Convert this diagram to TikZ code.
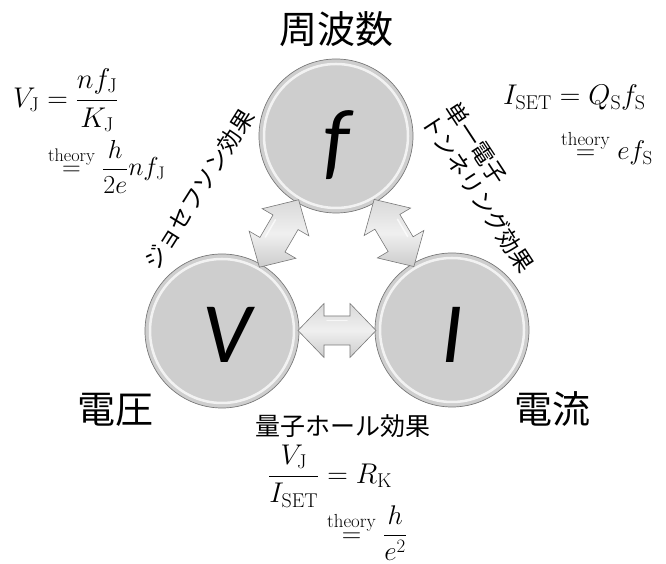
\RequirePackage{fix-cm}
\documentclass[tikz,border=0pt]{standalone}
\usepackage{fontspec}
\newfontfamily\jpfont{Noto Sans CJK JP}
\newfontfamily\carlito{Carlito}
\usetikzlibrary{calc}
\definecolor{ballgray}{RGB}{206,206,206}
\definecolor{rimgray}{RGB}{120,120,120}
\tikzset{
  ball/.style={circle, minimum size=154pt, inner sep=0pt, fill=ballgray, draw=rimgray, line width=0.7pt,
    path picture={\draw[white, opacity=.75, line width=2.5pt] (path picture bounding box.center) circle (72);}},
  letter/.style={inner sep=0pt, font=\carlito\itshape\fontsize{86}{86}\selectfont},
  arrowbody/.style={draw=rimgray, line width=0.6pt, top color=gray!30, bottom color=gray!40, middle color=gray!12},
  dblarrow/.pic={
    \path[arrowbody] (-39,0) -- (-13,27) -- (-13,14.5) -- (13,14.5) -- (13,27) -- (39,0)
      -- (13,-27) -- (13,-14.5) -- (-13,-14.5) -- (-13,-27) -- cycle;
    \draw[white, opacity=.7, line width=1.5pt, line cap=round] (-10,10) -- (10,10);
  },
  jplabel/.style={inner sep=0pt, font=\jpfont\fontsize{38}{40}\selectfont},
  effect/.style={inner sep=0pt, font=\jpfont\fontsize{23}{26}\selectfont},
  eq/.style={inner sep=0pt, font=\fontsize{28.5}{34}\selectfont},
  eqsmall/.style={inner sep=0pt, font=\fontsize{26}{31}\selectfont}
}
\begin{document}
\begin{tikzpicture}[x=1pt,y=1pt]
\useasboundingbox (0,0) rectangle (666,564);
% circles
\node[ball] (f) at (336,428) {};
\node[ball] (V) at (222,233) {};
\node[ball] (I) at (452,234) {};
\node[letter] (fl) at ($(f)+(1,-9)$) {f};
\node[letter] (Vl) at ($(V)+(5,-4)$) {V};
\node[letter] (Il) at ($(I)+(0,-5)$) {I};
% double arrows
\pic[rotate=59.8] at ($(V)!0.5!(f)$) {dblarrow};
\pic[rotate=-59.4] at ($(f)!0.5!(I)$) {dblarrow};
\pic at ($(V)!0.5!(I)$) {dblarrow};
% quantity labels
\node[jplabel] (freq) at (336.5,535) {周波数};
\node[jplabel] (volt) at (115.5,154.5) {電圧};
\node[jplabel] (curr) at (552.5,154.5) {電流};
% effect labels
\node[effect, font=\jpfont\fontsize{25}{28}\selectfont] (qhe) at (343,138) {量子ホール効果};
\node[effect, rotate=57.7] (jos) at (199,374.5) {ジョセフソン効果};
\node[effect, rotate=-56.8, anchor=west] (set1) at (451,459) {単一電子};
\node[effect, rotate=-56.8, anchor=west] (set2) at (427.5,447.5) {トンネリング効果};
% formulas
\node[eq, anchor=west] (vj) at (13,464) {$\displaystyle V_{\mathrm J}=\frac{nf_{\mathrm J}}{K_{\mathrm J}}$};
\node[eqsmall, anchor=west] (vjth) at (48,397) {$\displaystyle \stackrel{\mathrm{theory}}{=}\frac{h}{2e}nf_{\mathrm J}$};
\node[eq, anchor=base west] (iset) at (503,459) {$I_{\mathrm{SET}}=Q_{\mathrm S}f_{\mathrm S}$};
\node[eqsmall, anchor=base west, font=\fontsize{27}{32}\selectfont] (isetth) at (561,404) {$\stackrel{\mathrm{theory}}{=}ef_{\mathrm S}$};
\node[eq, anchor=west] (rk) at (268,88) {$\displaystyle \frac{V_{\mathrm J}}{I_{\mathrm{SET}}}=R_{\mathrm K}$};
\node[eqsmall, anchor=south west, font=\fontsize{27}{32}\selectfont] (rkth) at (327,3) {$\displaystyle \stackrel{\mathrm{theory}}{=}\frac{h}{e^2}$};
\end{tikzpicture}
\end{document}
